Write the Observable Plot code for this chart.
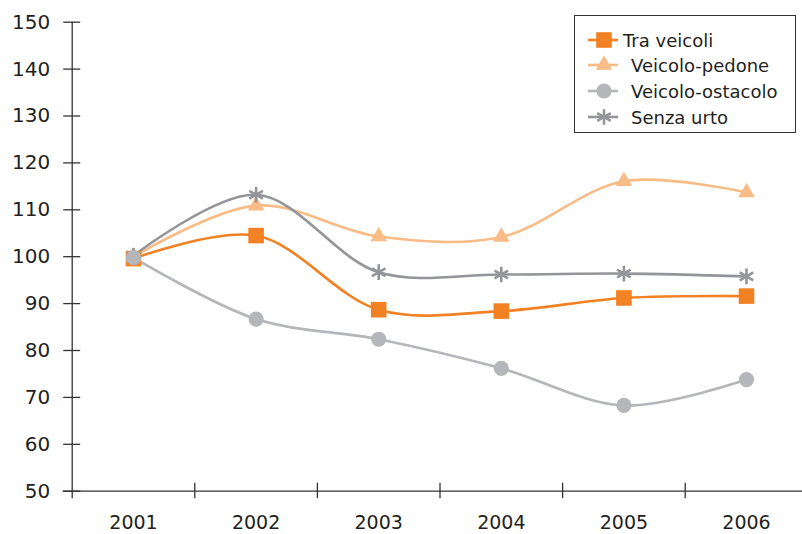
<!DOCTYPE html>
<html><head><meta charset="utf-8">
<script src="https://cdn.jsdelivr.net/npm/d3@7"></script>
<script src="https://cdn.jsdelivr.net/npm/@observablehq/plot@0.6"></script>
<style>
body{margin:0;background:#fff;}
#wrap{position:relative;width:802px;height:534px;overflow:hidden;font-family:"DejaVu Sans",sans-serif;}
#legend{position:absolute;left:574px;top:15px;width:222px;height:118px;border:1.5px solid #333;box-sizing:border-box;background:#fff;}
.item{position:absolute;left:0;height:24px;display:flex;align-items:center;font-size:18px;color:#231f20;}
.item svg{display:block;}
</style>
</head><body>
<div id="wrap"><div id="chart"></div><div id="legend"></div></div>
<script>
const years = [2001, 2002, 2003, 2004, 2005, 2006];
const seriesNames = ["Tra veicoli", "Veicolo-pedone", "Veicolo-ostacolo", "Senza urto"];
const traVeicoli = [99.6, 104.5, 88.7, 88.4, 91.2, 91.6];
const veicoloPedone = [100.0, 110.9, 104.3, 104.2, 116.1, 113.7];
const veicoloOstacolo = [99.8, 86.7, 82.4, 76.2, 68.3, 73.8];
const senzaUrto = [100.2, 113.2, 96.7, 96.2, 96.4, 95.8];
const yTicks = [50, 60, 70, 80, 90, 100, 110, 120, 130, 140, 150];
const colors = ["#f28123", "#f9bc86", "#b5b6b9", "#949599"];
const symbols = ["square", "triangle", "circle", "asterisk"];
const radii = [8.8, 6.2, 7.6, 7.4];

const values = [traVeicoli, veicoloPedone, veicoloOstacolo, senzaUrto];
const rows = [];
seriesNames.forEach((s, i) => years.forEach((y, j) => rows.push({series: s, year: y, value: values[i][j], idx: i})));

const W = 802, H = 534, mL = 71.7, mT = 21.7, mB = 534 - 490.7, mR = 0;
const band = 122.6;
const xMin = 2000.5, xMax = 2000.5 + (W - mL - mR) / band;
const pxY = (490.7 - 21.7) / 100; // px per unit
const boundaries = years.slice(0, -1).map(y => y + 0.5);

const marks = [
  Plot.ruleY([50], {x1: xMin - 9 / band, x2: xMax, stroke: "#333", strokeWidth: 1.3}),
  Plot.ruleX([xMin], {y1: 50 - 7.5 / pxY, y2: 150, stroke: "#333", strokeWidth: 1.3}),
  Plot.ruleY(yTicks, {x1: xMin - 8.5 / band, x2: xMin + 8.5 / band, stroke: "#333", strokeWidth: 1.3}),
  Plot.ruleX(boundaries, {y1: 50 - 7.5 / pxY, y2: 50 + 8 / pxY, stroke: "#333", strokeWidth: 1.3}),
  Plot.axisY({ticks: yTicks, tickSize: 0, tickPadding: 22, fontSize: 20, fill: "#231f20", label: null}),
  Plot.axisX({ticks: years, tickSize: 0, tickPadding: 24, fontSize: 19, fill: "#231f20", label: null, tickFormat: d => String(d)})
];
const seriesRows = seriesNames.map(s => rows.filter(r => r.series === s));
seriesNames.forEach((s, i) => {
  marks.push(Plot.line(seriesRows[i], {x: "year", y: "value", stroke: colors[i], strokeWidth: 2.6, curve: "catmull-rom"}));
});
[0, 1, 3, 2].forEach(i => {
  const d = seriesRows[i];
  if (symbols[i] === "asterisk") {
    marks.push(Plot.dot(d, {x: "year", y: "value", symbol: "asterisk", stroke: colors[i], strokeWidth: 2.6, r: radii[i]}));
  } else {
    marks.push(Plot.dot(d, {x: "year", y: "value", symbol: symbols[i], fill: colors[i], stroke: "none", r: radii[i]}));
  }
});

const chart = Plot.plot({
  width: W, height: H,
  marginLeft: mL, marginTop: mT, marginBottom: mB, marginRight: mR,
  style: {fontFamily: "'DejaVu Sans', sans-serif", background: "#fff", overflow: "visible"},
  x: {type: "linear", domain: [xMin, xMax], axis: null, label: null},
  y: {domain: [50, 150], axis: null, label: null},
  marks
});
document.getElementById("chart").appendChild(chart);

// legend
const legend = document.getElementById("legend");
const tops = [12, 37, 63, 89];
const textLeft = [48, 56, 56, 56];
seriesNames.forEach((s, i) => {
  const it = document.createElement("div");
  it.className = "item";
  it.style.top = tops[i] + "px";
  const sv = d3.create("svg").attr("width", textLeft[i]).attr("height", 24);
  sv.append("line").attr("x1", 13).attr("x2", 43).attr("y1", 12).attr("y2", 12)
    .attr("stroke", colors[i]).attr("stroke-width", 2.6);
  const symMap = {square: d3.symbolSquare, triangle: d3.symbolTriangle, circle: d3.symbolCircle, asterisk: d3.symbolAsterisk};
  const size = Math.PI * radii[i] * radii[i];
  const p = sv.append("path").attr("transform", "translate(29,12)")
    .attr("d", d3.symbol(symMap[symbols[i]], size)());
  if (symbols[i] === "asterisk") p.attr("fill", "none").attr("stroke", colors[i]).attr("stroke-width", 2.6);
  else p.attr("fill", colors[i]);
  it.appendChild(sv.node());
  const t = document.createElement("span");
  t.textContent = s;
  it.appendChild(t);
  legend.appendChild(it);
});
</script>
</body></html>
